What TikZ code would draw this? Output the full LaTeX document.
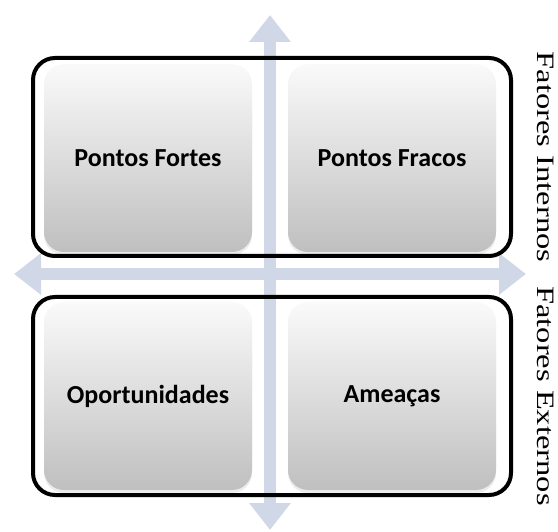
\documentclass[tikz,border=0pt]{standalone}
\usepackage{fontspec}
\setmainfont{Liberation Serif}
\newfontfamily\calibri{Carlito}
\usetikzlibrary{arrows.meta,shadows}
\definecolor{azulclaro}{RGB}{208,216,232}

\begin{document}
\begin{tikzpicture}[x=1pt,y=-1pt,
        eixo/.style={draw=azulclaro,line width=12pt,
            {Triangle[width=40pt,length=27pt]}-{Triangle[width=40pt,length=27pt]}},
        grupo/.style={draw=black,line width=4pt,rounded corners=22pt,
            minimum width=478pt,minimum height=198pt},
        quadro/.style={rounded corners=20pt,top color=gray!4,bottom color=gray!50,
            minimum width=208pt,minimum height=188pt,
            font=\calibri\bfseries\fontsize{26}{30}\selectfont,
            drop shadow={opacity=0.15,shadow xshift=0pt,shadow yshift=-3pt}},
        fator/.style={rotate=-90,font=\fontsize{25}{30}\selectfont}]
        \useasboundingbox (0,0) rectangle (558,532);

        % axes
        \coordinate (cima) at (270,15);
        \coordinate (baixo) at (270,530);
        \coordinate (esq) at (14,274);
        \coordinate (dir) at (526,274);
        \draw[eixo] (baixo) -- (cima);
        \draw[eixo] (esq) -- (dir);

        % quadrants
        \node[quadro] (forte) at (148,158) {Pontos Fortes};
        \node[quadro] (fraco) at (392,158) {Pontos Fracos};
        \node[quadro] (oport) at (148,396) {Oportunidades};
        \node[quadro] (ameaca) at (392,396) {Ameaças};

        % groups
        \node[grupo] (interno) at (272,157) {};
        \node[grupo] (externo) at (272,396) {};

        % side labels
        \node[fator] (fint) at (546,157) {\scalebox{1.3}[1]{Fatores Internos}};
        \node[fator] (fext) at (546,396) {\scalebox{1.3}[1]{Fatores Externos}};
    \end{tikzpicture}
\end{document}
